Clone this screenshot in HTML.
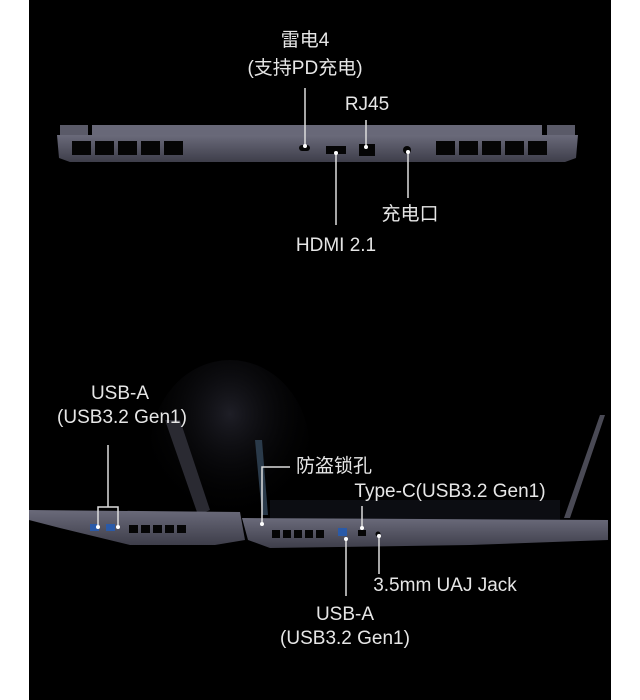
<!DOCTYPE html>
<html><head><meta charset="utf-8"><style>
html,body{margin:0;padding:0;background:#fff;width:640px;height:700px;overflow:hidden}
svg{display:block}
text{font-family:"Liberation Sans","Noto Sans CJK SC",sans-serif;fill:#e6e6e6;font-size:19px;text-anchor:middle}
</style></head><body>
<svg width="640" height="700" viewBox="0 0 640 700">
<defs>
<radialGradient id="glow" cx="0.5" cy="0.3" r="0.6"><stop offset="0" stop-color="#1e1e26"/><stop offset="1" stop-color="#000" stop-opacity="0"/></radialGradient>
<linearGradient id="body" x1="0" y1="0" x2="0" y2="1"><stop offset="0" stop-color="#6a6a7a"/><stop offset="1" stop-color="#3e3e4a"/></linearGradient>
</defs>
<rect x="29" y="0" width="582" height="700" fill="#000"/>
<!-- top laptop -->
<rect x="60" y="125" width="28" height="10" fill="#5a5a68"/>
<rect x="92" y="125" width="450" height="10" fill="#686878"/>
<rect x="547" y="125" width="28" height="10" fill="#5a5a68"/>
<path d="M57 135 L578 135 L576 158 L565 162 L70 162 L59 158 Z" fill="url(#body)"/>
<g fill="#050505">
<rect x="72" y="141" width="19" height="14"/><rect x="95" y="141" width="19" height="14"/><rect x="118" y="141" width="19" height="14"/><rect x="141" y="141" width="19" height="14"/><rect x="164" y="141" width="19" height="14"/>
<rect x="436" y="141" width="19" height="14"/><rect x="459" y="141" width="19" height="14"/><rect x="482" y="141" width="19" height="14"/><rect x="505" y="141" width="19" height="14"/><rect x="528" y="141" width="19" height="14"/>
<rect x="299" y="145" width="11" height="6" rx="3"/>
<rect x="326" y="146" width="20" height="8"/>
<rect x="359" y="144" width="16" height="12"/>
<circle cx="407" cy="150" r="4"/>
</g>
<g stroke="#ddd" stroke-width="1.5" fill="none">
<line x1="305" y1="88" x2="305" y2="145"/>
<line x1="366" y1="120" x2="366" y2="146"/>
<line x1="336" y1="153" x2="336" y2="225"/>
<line x1="408" y1="152" x2="408" y2="198"/>
</g>
<g fill="#fff"><circle cx="305" cy="146" r="2"/><circle cx="366" cy="147" r="2"/><circle cx="336" cy="153" r="2"/><circle cx="408" cy="152" r="2"/></g>
<text x="305" y="46">雷电4</text>
<text x="305" y="74">(支持PD充电)</text>
<text x="367" y="110">RJ45</text>
<text x="410" y="220">充电口</text>
<text x="336" y="251">HDMI 2.1</text>
<!-- bottom laptops -->
<ellipse cx="230" cy="450" rx="80" ry="90" fill="url(#glow)"/>
<path d="M165 420 L180 420 L210 510 L198 515 Z" fill="#2a2a32"/>
<path d="M255 440 L262 515 L268 515 L262 440 Z" fill="#2a3a4a"/>
<path d="M600 415 L605 415 L570 518 L564 518 Z" fill="#4a4a55"/>
<path d="M270 500 L560 500 L560 520 L270 520 Z" fill="#0c0d12"/>
<path d="M29 510 L240 512 L245 540 L215 545 L130 545 L60 528 L29 520 Z" fill="url(#body)"/>
<path d="M242 518 L608 520 L608 540 L470 545 L270 548 L248 540 Z" fill="url(#body)"/>
<g fill="#050505">
<rect x="129" y="525" width="9" height="8"/><rect x="141" y="525" width="9" height="8"/><rect x="153" y="525" width="9" height="8"/><rect x="165" y="525" width="9" height="8"/><rect x="177" y="525" width="9" height="8"/>
<rect x="272" y="530" width="8" height="8"/><rect x="283" y="530" width="8" height="8"/><rect x="294" y="530" width="8" height="8"/><rect x="305" y="530" width="8" height="8"/><rect x="316" y="530" width="8" height="8"/>
<rect x="358" y="530" width="8" height="6"/><circle cx="378" cy="534" r="2.5"/>
</g>
<rect x="90" y="524" width="9" height="7" fill="#2a5aa8"/><rect x="106" y="524" width="9" height="7" fill="#2a5aa8"/>
<rect x="338" y="528" width="9" height="8" fill="#2a5aa8"/>
<g stroke="#ddd" stroke-width="1.5" fill="none">
<path d="M108 445 L108 507 M98 525 L98 507 L118 507 L118 525"/>
<path d="M290 467 L262 467 L262 522"/>
<line x1="362" y1="506" x2="362" y2="528"/>
<line x1="346" y1="540" x2="346" y2="596"/>
<line x1="379" y1="536" x2="379" y2="574"/>
</g>
<g fill="#fff"><circle cx="98" cy="527" r="2"/><circle cx="118" cy="527" r="2"/><circle cx="262" cy="524" r="2"/><circle cx="362" cy="528" r="2"/><circle cx="346" cy="539" r="2"/><circle cx="379" cy="536" r="2"/></g>
<text x="120" y="399">USB-A</text>
<text x="122" y="423">(USB3.2 Gen1)</text>
<text x="296" y="472" style="text-anchor:start">防盗锁孔</text>
<text x="450" y="497">Type-C(USB3.2 Gen1)</text>
<text x="445" y="591">3.5mm UAJ Jack</text>
<text x="345" y="620">USB-A</text>
<text x="345" y="644">(USB3.2 Gen1)</text>
</svg>
</body></html>
